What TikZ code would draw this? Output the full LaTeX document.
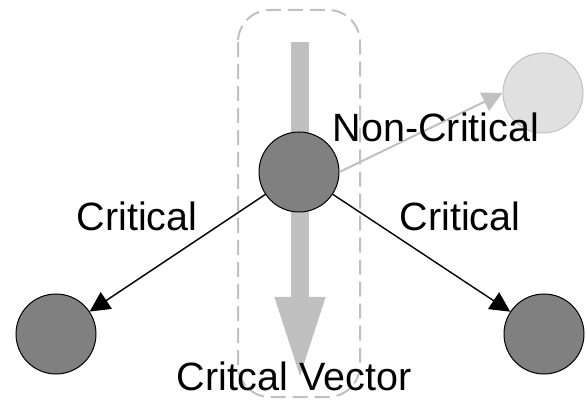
\documentclass[tikz,border=0pt]{standalone}
\usepackage{fontspec}
\setmainfont{Liberation Sans}
\usetikzlibrary{arrows.meta}
\definecolor{darkball}{HTML}{808080}
\definecolor{lightball}{HTML}{E0E0E0}
\definecolor{paleline}{HTML}{C0C0C0}
\tikzset{
  ball/.style={circle,draw=black,fill=darkball,minimum size=80pt,inner sep=0pt,line width=1pt},
  paleball/.style={circle,draw=paleline,fill=lightball,minimum size=80pt,inner sep=0pt,line width=1pt},
  critarrow/.style={draw=black,line width=1.4pt,-{Triangle[length=20pt,width=20pt]}},
  noncritarrow/.style={draw=paleline,line width=2pt,-{Triangle[length=20pt,width=20pt]}},
  lbl/.style={anchor=base,inner sep=0pt,font=\fontsize{39.5}{46}\selectfont}
}
\begin{document}
\begin{tikzpicture}[x=1pt,y=-1pt]
    \useasboundingbox (0,0) rectangle (587,414);
    \draw[paleline,line width=2pt,dash pattern=on 15pt off 7pt,rounded corners=32pt] (238,10) rectangle (360,397);
    \draw[paleline,line width=18pt,-{Triangle[length=85pt,width=45pt]}] (300,42) -- (300,382);
    \node[ball] (hub) at (299,172) {};
    \node[ball] (lowleft) at (56,334) {};
    \node[ball] (lowright) at (544,334) {};
    \node[paleball] (upright) at (543,93) {};
    \draw[critarrow] (hub) -- (lowleft);
    \draw[critarrow] (hub) -- (lowright);
    \draw[noncritarrow] (hub.east) -- (upright.west);
    \node[lbl] (critleft) at (137,231) {Critical};
    \node[lbl] (critright) at (460,231) {Critical};
    \node[lbl] (noncrit) at (436,142) {Non-Critical};
    \node[lbl] (vector) at (294,390) {Critcal Vector};
\end{tikzpicture}
\end{document}
